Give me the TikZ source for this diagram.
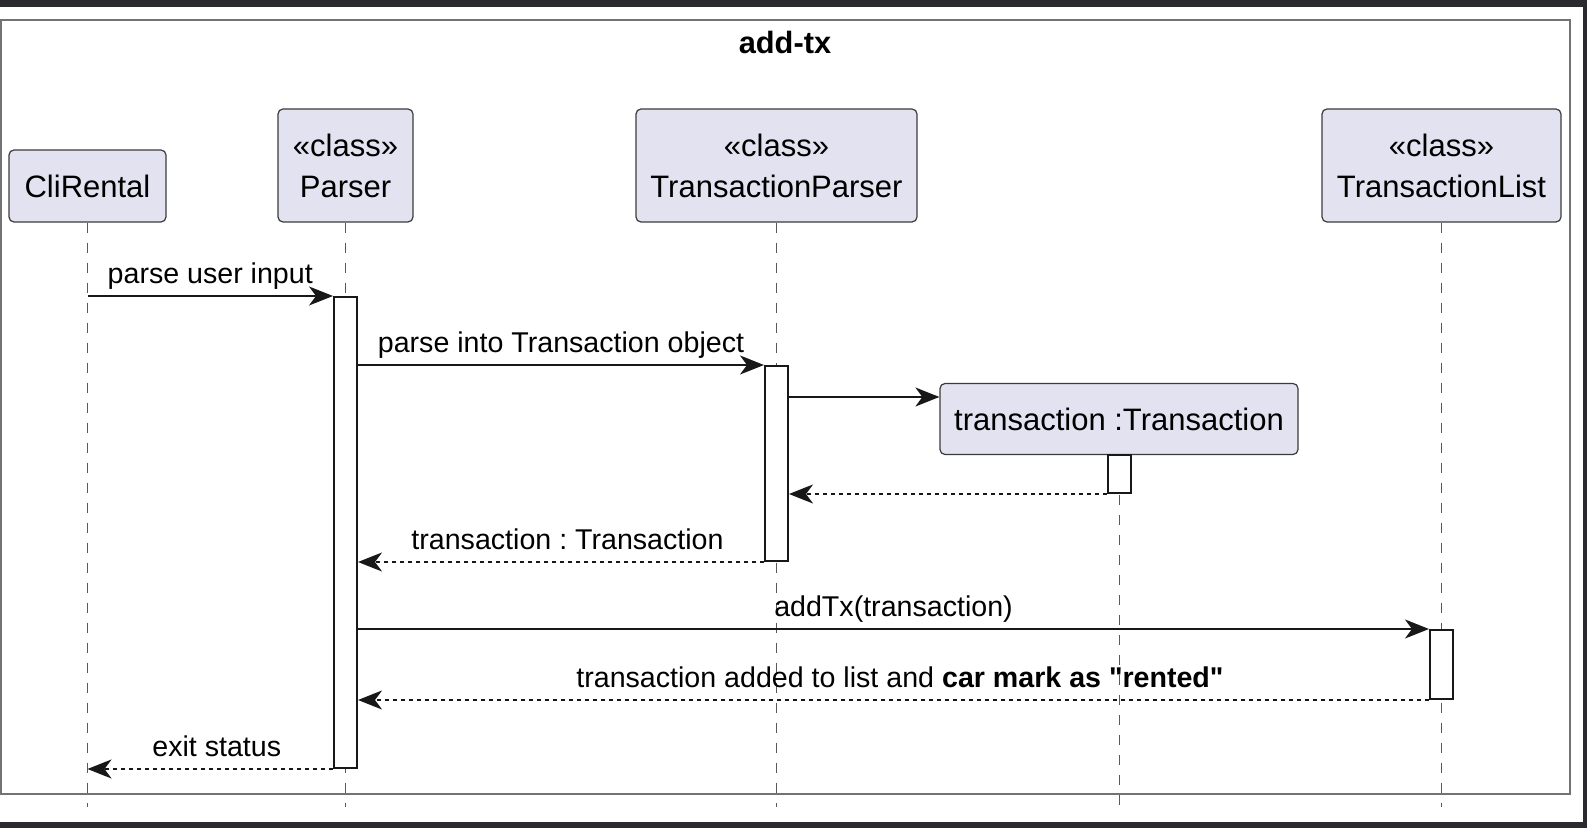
\documentclass[tikz,border=0pt]{standalone}
\usepackage{fontspec}
\setmainfont{Liberation Sans}[Ligatures=TeXOff]
\frenchspacing
\usetikzlibrary{arrows.meta}
\definecolor{umlfill}{HTML}{E2E2F0}
\definecolor{umlline}{HTML}{181818}
\definecolor{outerbg}{HTML}{2B2B2F}
\tikzset{
  part box/.style={
    rounded corners=2.5pt,
    draw=umlline!85,
    line width=0.6pt,
    fill=umlfill,
    align=center,
    inner sep=0pt,
    font=\fontsize{15.5}{20.5}\selectfont,
  },
  act bar/.style={draw=umlline, line width=1pt, fill=white, minimum width=11.5pt, inner sep=0pt},
  life line/.style={black!65, line width=0.5pt, dash pattern=on 5pt off 5pt},
  call/.style={umlline, line width=0.8pt, -{Stealth[length=12pt, width=9.5pt, inset=3.5pt]}},
  reply/.style={call, dash pattern=on 2pt off 2pt},
  msg label/.style={font=\fontsize{14.3}{17}\selectfont, anchor=base, yshift=6.25pt, text=black},
  reply label/.style={msg label, xshift=3.25pt},
}
\begin{document}
\begin{tikzpicture}[x=0.5pt, y=-0.5pt]
      \useasboundingbox (0,0) rectangle (1587,828);
      \fill[outerbg] (0,0) rectangle (1587,828);
      \fill[white] (0,7) rectangle (1583,822);
      \draw[black!55, line width=0.6pt] (1,20) rectangle (1570,794);
      \node[font=\fontsize{15.4}{18}\selectfont\bfseries, anchor=base] (title) at (785,53.3) {add-tx};

      \node[part box, minimum width=78.5pt, minimum height=36pt] (cli) at (87.5,186) {CliRental};
      \node[part box, minimum width=67.5pt, minimum height=56.5pt] (parser) at (345.5,165.5) {«class»\\Parser};
      \node[part box, minimum width=140.5pt, minimum height=56.5pt] (tparser) at (776.5,165.5) {«class»\\TransactionParser};
      \node[part box, minimum width=119.5pt, minimum height=56.5pt] (tlist) at (1441.5,165.5) {«class»\\TransactionList};
      \node[part box, minimum width=179pt, minimum height=35.5pt] (tx) at (1119,419) {transaction :Transaction};

      \coordinate (bottom) at (0,807);
      \foreach \p in {cli, parser, tparser, tx, tlist}
        \draw[life line] (\p.south) -- (\p.south |- bottom);

      \node[act bar, minimum height=235.5pt] (pbar) at (345.5,532.5) {};
      \node[act bar, minimum height=97.5pt] (tpbar) at (776.5,463.5) {};
      \node[act bar, minimum height=19pt] (txbar) at (1119,474) {};
      \node[act bar, minimum height=34.5pt] (tlbar) at (1441.5,664.5) {};
      \coordinate (newtx) at ([yshift=11pt]tx.west);

      \draw[call] (cli.center |- pbar.north) -- (pbar.north west) node[midway, msg label] {parse user input};
      \draw[call] (pbar.east |- tpbar.north) -- (tpbar.north west) node[midway, msg label] {parse into Transaction object};
      \draw[call] (tpbar.east |- newtx) -- (newtx);
      \draw[reply] (txbar.south west) -- (tpbar.east |- txbar.south);
      \draw[reply] (tpbar.south west) -- (pbar.east |- tpbar.south) node[midway, reply label] {transaction : Transaction};
      \draw[call] (pbar.east |- tlbar.north) -- (tlbar.north west) node[midway, msg label] {addTx(transaction)};
      \draw[reply] (tlbar.south west) -- (pbar.east |- tlbar.south) node[midway, reply label] {transaction added to list and \textbf{car mark as "rented"}};
      \draw[reply] (pbar.south west) -- (cli.center |- pbar.south) node[midway, reply label] {exit status};
    \end{tikzpicture}
\end{document}
